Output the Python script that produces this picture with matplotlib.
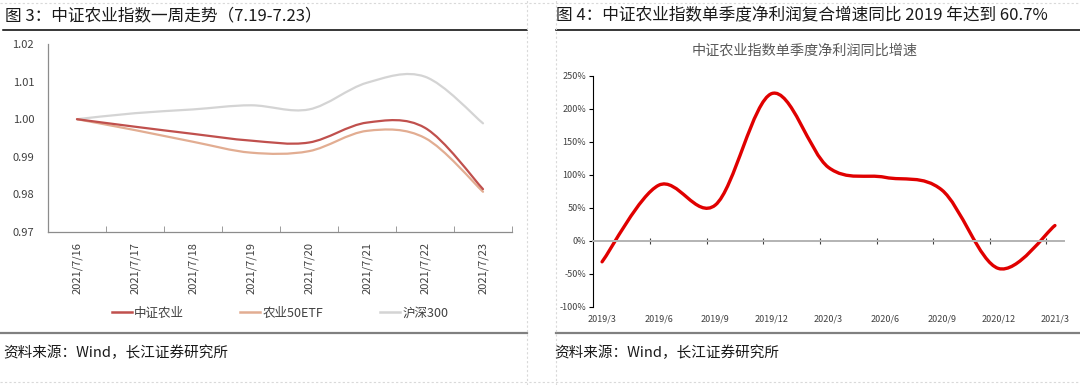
import numpy as np
import matplotlib
matplotlib.use("Agg")
import matplotlib.pyplot as plt
from matplotlib.path import Path
from matplotlib.patches import PathPatch
from matplotlib.lines import Line2D

plt.rcParams['font.family'] = ['Noto Sans CJK SC', 'DejaVu Sans']

# left chart data
dates = ["2021/7/16", "2021/7/17", "2021/7/18", "2021/7/19",
         "2021/7/20", "2021/7/21", "2021/7/22", "2021/7/23"]
zz_agri = [1.000, 0.998, 0.9961, 0.9943, 0.9938, 0.9991, 0.9977, 0.9814]
etf50 = [1.000, 0.9971, 0.9940, 0.9911, 0.9915, 0.9969, 0.9950, 0.9807]
hs300 = [1.000, 1.0016, 1.0026, 1.0037, 1.0026, 1.0097, 1.0113, 0.9989]
left_names = ["中证农业", "农业50ETF", "沪深300"]
left_colors = ["#C0504D", "#E2AD92", "#D4D4D4"]

# right chart data
quarters = ["2019/3", "2019/6", "2019/9", "2019/12", "2020/3",
            "2020/6", "2020/9", "2020/12", "2021/3"]
growth = [-32, 84, 54, 223, 111, 96, 77, -42, 23]
growth_ticks = [-100, -50, 0, 50, 100, 150, 200, 250]


def smooth_patch(xs, ys, color, lw):
    # excel-like smoothed line: catmull-rom as cubic bezier
    n = len(xs)
    verts = [(xs[0], ys[0])]
    codes = [Path.MOVETO]
    for i in range(n - 1):
        a = max(i - 1, 0)
        d = min(i + 2, n - 1)
        c1 = (xs[i] + (xs[i + 1] - xs[a]) / 6, ys[i] + (ys[i + 1] - ys[a]) / 6)
        c2 = (xs[i + 1] - (xs[d] - xs[i]) / 6, ys[i + 1] - (ys[d] - ys[i]) / 6)
        verts += [c1, c2, (xs[i + 1], ys[i + 1])]
        codes += [Path.CURVE4] * 3
    return PathPatch(Path(verts, codes), fill=False, edgecolor=color, lw=lw,
                     capstyle='round', joinstyle='round')


fig = plt.figure(figsize=(10.8, 3.85), dpi=100)

# ---- headers, rules, sources
fig.text(5/1080, 1-16/385, "图 3：中证农业指数一周走势（7.19-7.23）", fontsize=12,
         va='center', ha='left', color='#1a1a1a')
fig.text(556/1080, 1-16/385, "图 4：中证农业指数单季度净利润复合增速同比 2019 年达到 60.7%",
         fontsize=12, va='center', ha='left', color='#1a1a1a')
fig.add_artist(Line2D([3/1080, 527/1080], [1-30/385]*2, color='black', lw=1.1))
fig.add_artist(Line2D([556/1080, 1], [1-30/385]*2, color='black', lw=1.1))
fig.add_artist(Line2D([0, 527/1080], [1-333/385]*2, color='#808080', lw=1.6))
fig.add_artist(Line2D([556/1080, 1], [1-333/385]*2, color='#808080', lw=1.6))
for xv in [527/1080, 556/1080]:
    fig.add_artist(Line2D([xv, xv], [0, 1], color='#d9d9d9', lw=0.8, ls=(0, (2, 2))))
fig.add_artist(Line2D([0, 1], [1-3/385]*2, color='#d9d9d9', lw=0.8, ls=(0, (2, 2))))
fig.add_artist(Line2D([0, 1], [3/385]*2, color='#d9d9d9', lw=0.8, ls=(0, (2, 2))))
fig.text(3/1080, 1-353/385, "资料来源：Wind，长江证券研究所", fontsize=10.5, va='center', color='#1a1a1a')
fig.text(554/1080, 1-353/385, "资料来源：Wind，长江证券研究所", fontsize=10.5, va='center', color='#1a1a1a')

# ---- left chart
ax = fig.add_axes([48/1080, 1-232/385, 464/1080, 188/385])
x = np.arange(len(dates))
for ys, c in zip([hs300, etf50, zz_agri], [left_colors[2], left_colors[1], left_colors[0]]):
    ax.add_patch(smooth_patch(x, ys, c, 1.6))
ax.set_xlim(-0.5, len(dates) - 0.5)
ax.set_ylim(0.97, 1.02)
ax.set_yticks([0.97, 0.98, 0.99, 1.00, 1.01, 1.02])
ax.set_yticklabels(["0.97", "0.98", "0.99", "1.00", "1.01", "1.02"])
ax.set_xticks(x)
ax.set_xticklabels(dates, rotation=90)
ax.set_xticks(np.arange(len(dates) + 1) - 0.5, minor=True)
ax.tick_params(axis='y', length=0, pad=10, labelsize=8, labelcolor='#404040')
ax.tick_params(axis='x', which='major', length=0, pad=7, labelsize=8, labelcolor='#404040')
ax.tick_params(axis='x', which='minor', length=4, direction='in', color='#8c8c8c')
for s in ['top', 'right']:
    ax.spines[s].set_visible(False)
for s in ['left', 'bottom']:
    ax.spines[s].set_color('#8c8c8c')
    ax.spines[s].set_linewidth(0.9)

handles = [Line2D([], [], color=c, lw=1.8) for c in left_colors]
fig.legend(handles, left_names, loc='center', bbox_to_anchor=(280/1080, 1-313/385),
           ncol=3, frameon=False, fontsize=9, handlelength=1.6, handletextpad=0.2,
           columnspacing=4.5, labelcolor='#404040')

# ---- right chart
ax2 = fig.add_axes([593/1080, 1-306.7/385, 471/1080, 231/385])
xq = np.arange(len(quarters))
ax2.add_patch(smooth_patch(xq, growth, '#E00000', 2.4))
ax2.set_xlim(-0.16, len(quarters) - 1 + 0.16)
ax2.set_ylim(-100, 250)
ax2.set_yticks(growth_ticks)
ax2.set_yticklabels([f"{v}%" for v in growth_ticks])
ax2.tick_params(axis='y', length=3, width=0.8, pad=2, labelsize=6.5, labelcolor='#404040')
ax2.spines['bottom'].set_position(('data', 0))
ax2.spines['bottom'].set_color('#b3b3b3')
ax2.spines['bottom'].set_linewidth(1.4)
ax2.set_xticks(xq[:-1] + 0.85)
ax2.set_xticklabels([])
ax2.tick_params(axis='x', length=4, direction='inout', width=0.8, color='#404040')
for xi, lab in zip(xq, quarters):
    ax2.text(xi, -0.035, lab, transform=ax2.get_xaxis_transform(), ha='center',
             va='top', fontsize=6.5, color='#404040')
for s in ['top', 'right']:
    ax2.spines[s].set_visible(False)
ax2.spines['left'].set_color('black')
ax2.spines['left'].set_linewidth(0.8)
fig.text(805/1080, 1-51/385, "中证农业指数单季度净利润同比增速", fontsize=10.2,
         color='#595959', ha='center', va='center')

fig.savefig("out.png", dpi=100)
